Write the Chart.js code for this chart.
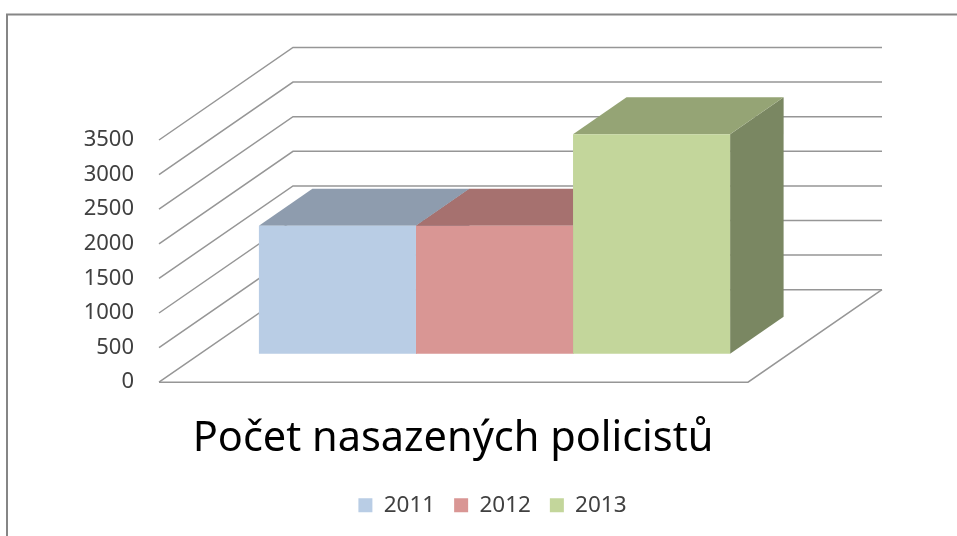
<!DOCTYPE html>
<html>
<head>
<meta charset="utf-8">
<style>html,body{margin:0;padding:0;background:#fff;overflow:hidden}canvas{display:block}</style>
<script src="https://cdn.jsdelivr.net/npm/chart.js@4/dist/chart.umd.min.js"></script>
</head>
<body>
<canvas id="c" width="957" height="536"></canvas>
<script>
const categories = ["Počet nasazených policistů"];
const years = ["2011", "2012", "2013"];
const values2011 = [1850];
const values2012 = [1850];
const values2013 = [3170];
const tickStep = 500;
const axisMax = 3500;
const frontColors = ["#B9CDE5", "#D99694", "#C3D69B"];
const topColors = ["#8E9CAE", "#A6716F", "#95A475"];
const sideColors = ["#717D8C", "#8A5F5E", "#7A8762"];
const WALL = {dx: 134, dy: -92.5};
const BAR_OFFSET = {dx: 41, dy: -28.5};
const BAR_DEPTH = {dx: 53.5, dy: -37};

function poly(ctx, pts, fill) {
  ctx.beginPath();
  pts.forEach((p, i) => i ? ctx.lineTo(p[0], p[1]) : ctx.moveTo(p[0], p[1]));
  ctx.closePath();
  ctx.fillStyle = fill;
  ctx.fill();
}

const threeD = {
  id: "threeD",
  afterLayout(chart) {
    const t = chart.titleBlock, l = chart.legend;
    const tShift = 453 - (t.left + t.right) / 2;
    t.left += tShift; t.right += tShift;
    const lShift = 492.5 - (l.left + l.right) / 2;
    l.left += lShift; l.right += lShift;
    const tTop = 414; const th = t.bottom - t.top;
    t.top = tTop; t.bottom = tTop + th;
    const lTop = 475; const lh = l.bottom - l.top;
    l.top = lTop; l.bottom = lTop + lh;
  },
  beforeDatasetsDraw(chart) {
    const {ctx, chartArea: a, scales: {y}} = chart;
    ctx.save();
    ctx.strokeStyle = "#868686";
    ctx.lineWidth = 2;
    ctx.beginPath();
    ctx.moveTo(7, 536); ctx.lineTo(7, 14.5); ctx.lineTo(957, 14.5);
    ctx.stroke();
    ctx.strokeStyle = "#969696";
    ctx.lineWidth = 1.5;
    y.ticks.forEach(t => {
      const py = y.getPixelForValue(t.value);
      ctx.beginPath();
      ctx.moveTo(a.left, py);
      ctx.lineTo(a.left + WALL.dx, py + WALL.dy);
      ctx.lineTo(a.right + WALL.dx, py + WALL.dy);
      ctx.stroke();
    });
    const p0 = y.getPixelForValue(0);
    ctx.beginPath();
    ctx.moveTo(a.left, p0);
    ctx.lineTo(a.right, p0);
    ctx.lineTo(a.right + WALL.dx, p0 + WALL.dy);
    ctx.stroke();
    ctx.restore();

    // depth faces, left to right, then the library paints the front faces on top
    ctx.save();
    ctx.translate(BAR_OFFSET.dx, BAR_OFFSET.dy);
    const d = BAR_DEPTH;
    chart.data.datasets.forEach((ds, i) => {
      const bar = chart.getDatasetMeta(i).data[0];
      const l = bar.x - bar.width / 2, r = bar.x + bar.width / 2;
      poly(ctx, [[r, bar.y], [r + d.dx, bar.y + d.dy], [r + d.dx, bar.base + d.dy], [r, bar.base]], sideColors[i]);
      poly(ctx, [[l, bar.y], [l + d.dx, bar.y + d.dy], [r + d.dx, bar.y + d.dy], [r, bar.y]], topColors[i]);
    });
  },
  afterDatasetsDraw(chart) {
    chart.ctx.restore();
  }
};

const seriesValues = [values2011, values2012, values2013];
new Chart(document.getElementById("c"), {
  type: "bar",
  data: {
    labels: categories,
    datasets: years.map((yr, i) => ({
      label: yr,
      data: seriesValues[i],
      backgroundColor: frontColors[i],
      borderWidth: 0,
      clip: false,
      barPercentage: 1,
      categoryPercentage: 0.8
    }))
  },
  options: {
    responsive: false,
    animation: false,
    layout: {padding: {left: 6, right: 209, top: 140, bottom: 32.5}},
    plugins: {
      tooltip: {enabled: false},
      title: {
        display: true,
        text: categories[0],
        position: "bottom",
        color: "#000000",
        font: {family: "'Noto Sans'", size: 41.5, weight: "normal"},
        padding: {top: 0, bottom: 20}
      },
      legend: {
        position: "bottom",
        labels: {
          color: "#404040",
          font: {family: "'Noto Sans'", size: 22.5},
          boxWidth: 14,
          boxHeight: 14,
          padding: 19
        }
      }
    },
    scales: {
      x: {display: false},
      y: {
        min: 0,
        max: axisMax,
        afterFit(s) { s.width = 153; },
        grid: {display: false, drawTicks: false},
        border: {display: false},
        ticks: {
          stepSize: tickStep,
          padding: 25,
          color: "#404040",
          font: {family: "'Noto Sans'", size: 22},
          callback: v => String(v)
        }
      }
    }
  },
  plugins: [threeD]
});
</script>
</body>
</html>
